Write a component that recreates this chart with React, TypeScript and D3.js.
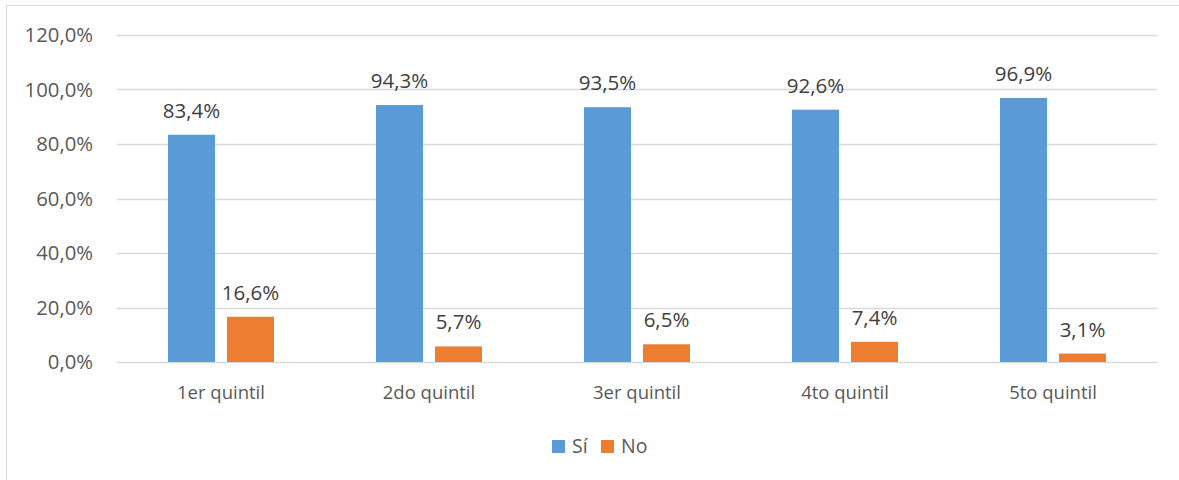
import React from 'react';
import * as d3 from 'd3';

const categories = ['1er quintil', '2do quintil', '3er quintil', '4to quintil', '5to quintil'];
const siValues = [83.4, 94.3, 93.5, 92.6, 96.9];
const noValues = [16.6, 5.7, 6.5, 7.4, 3.1];
const yTicks = [0, 20, 40, 60, 80, 100, 120];
const seriesNames = ['Sí', 'No'];
const colors = ['#5B9BD5', '#ED7D31'];

const W = 1179;
const H = 480;
const FONT = "'Open Sans', 'Noto Sans', sans-serif";
const fmt = (v: number) => v.toFixed(1).replace('.', ',') + '%';

export default function App() {
  const margin = { left: 117, right: 22, top: 35, bottom: 118 };
  const x = d3.scaleBand<string>().domain(categories).range([margin.left, W - margin.right]);
  const y = d3.scaleLinear().domain([0, 120]).range([H - margin.bottom, margin.top]);
  const barW = 47;
  const gap = 12;

  return (
    <svg width={W} height={H} style={{ position: 'absolute', left: 0, top: 0, fontFamily: FONT }}>
      <rect x={0} y={0} width={W} height={H} fill="#fff" />
      <rect x={6.5} y={5.5} width={W + 10} height={H + 10} fill="none" stroke="#D9D9D9" strokeWidth={1} />
      {/* gridlines + y labels */}
      {yTicks.map(t => (
        <g key={t}>
          <line x1={margin.left} x2={W - margin.right} y1={Math.round(y(t)) + 0.5} y2={Math.round(y(t)) + 0.5} stroke="#D9D9D9" strokeWidth={1.3} />
          <text x={93} y={y(t)} dy="0.36em" textAnchor="end" fontSize={20.3} fill="#595959">{fmt(t)}</text>
        </g>
      ))}
      {categories.map((c, i) => {
        const cx = (x(c) as number) + x.bandwidth() / 2;
        const vals = [siValues[i], noValues[i]];
        return (
          <g key={c}>
            {vals.map((v, k) => {
              const bx = k === 0 ? cx - gap / 2 - barW : cx + gap / 2;
              return (
                <g key={k}>
                  <rect x={bx} y={y(v)} width={barW} height={y(0) - y(v)} fill={colors[k]} />
                  <text x={bx + barW / 2} y={y(v) - 17} textAnchor="middle" fontSize={20.5} fill="#404040">{fmt(v)}</text>
                </g>
              );
            })}
            <text x={cx} y={y(0) + 37} textAnchor="middle" fontSize={18.5} fill="#595959">{c}</text>
          </g>
        );
      })}
      {/* legend */}
      <g>
        <rect x={552} y={440} width={13} height={13} fill={colors[0]} />
        <text x={572} y={453} fontSize={19.5} fill="#595959">{seriesNames[0]}</text>
        <rect x={601} y={440} width={13} height={13} fill={colors[1]} />
        <text x={621} y={453} fontSize={19.5} fill="#595959">{seriesNames[1]}</text>
      </g>
    </svg>
  );
}
